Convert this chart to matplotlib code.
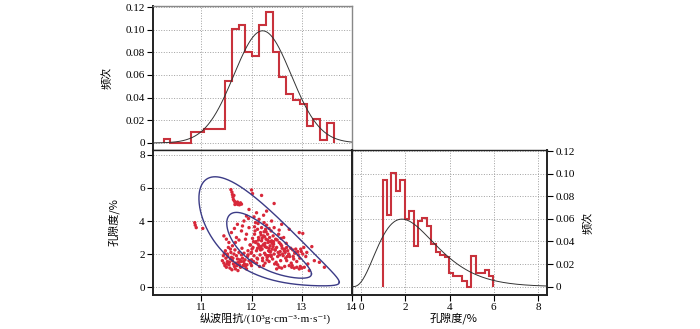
import numpy as np
import matplotlib
matplotlib.use("Agg")
import matplotlib.pyplot as plt

plt.rcParams['font.family'] = ['Liberation Serif', 'Noto Sans CJK SC', 'DejaVu Sans']
plt.rcParams['font.size'] = 8

# --- data ---
# impedance histogram (relative frequency), bins of ~0.1356
imp_edge0 = 10.25
imp_width = 0.1356
imp_freq = [0.0035, 0.0, 0.0, 0.0, 0.0094, 0.0094, 0.0120, 0.0125, 0.0125,
            0.055, 0.1006, 0.104, 0.080, 0.0765, 0.104, 0.1156, 0.080, 0.058,
            0.043, 0.0376, 0.034, 0.0153, 0.0215, 0.003, 0.018]
imp_mu, imp_sigma, imp_peak = 12.22, 0.57, 0.099

# porosity histogram, bins of 0.2
por_edge0 = 0.98
por_width = 0.2
por_freq = [0.094, 0.0637, 0.1008, 0.0845, 0.094, 0.060, 0.0667, 0.036, 0.0578,
            0.0608, 0.054, 0.038, 0.031, 0.028, 0.0265, 0.012, 0.009, 0.009,
            0.005, 0.0, 0.027, 0.012, 0.012, 0.015, 0.009]
# fitted gamma curve (shape, scale, shift)
por_k, por_theta, por_shift = 4.0, 0.75, 0.4

# crossplot points: (impedance, porosity)
imp_pts = [10.87, 10.90, 11.03, 10.88,
           11.59, 11.61, 11.62, 11.63, 11.64, 11.66, 11.68, 11.70, 11.73, 11.76, 11.80, 11.65, 11.72, 11.67, 11.78,
           12.00, 12.02, 12.20, 12.45, 11.95, 12.10, 11.90, 12.30, 12.05, 11.85, 12.15, 12.40, 12.60, 12.75, 12.95, 13.02,
           11.45, 11.50, 11.55, 11.60, 11.70, 11.62, 11.48, 11.52, 11.58, 11.68, 11.75, 11.80, 11.82, 11.90, 11.88, 11.95, 11.72, 11.66,
           11.42, 11.45, 11.47, 11.50, 11.52, 11.55, 11.57, 11.60, 11.62, 11.64, 11.66, 11.68, 11.70, 11.72, 11.74, 11.76, 11.78,
           11.80, 11.82, 11.84, 11.86, 11.88, 11.90, 11.53, 11.58, 11.65, 11.75, 11.85, 11.92, 11.95, 11.98, 12.00, 11.44, 11.49,
           11.61, 11.73,
           12.00, 12.03, 12.05, 12.08, 12.10, 12.12, 12.14, 12.15, 12.17, 12.18, 12.20, 12.21, 12.22, 12.24, 12.25, 12.26, 12.27,
           12.28, 12.29, 12.30, 12.31, 12.32, 12.33, 12.34, 12.35, 12.36, 12.37, 12.38, 12.39, 12.40, 12.41, 12.42, 12.43, 12.44,
           12.45, 12.46, 12.48, 12.50, 12.52, 12.54, 12.55, 12.57, 12.58, 12.60, 12.62, 12.64, 12.66, 12.68, 12.20, 12.30, 12.12,
           12.06, 12.02, 12.10, 12.16, 12.24, 12.00, 12.08, 12.25, 12.45, 12.55, 12.35,
           12.70, 12.72, 12.75, 12.78, 12.80, 12.82, 12.85, 12.88, 12.90, 12.92, 12.95, 12.98, 13.00, 13.02, 13.05, 13.08, 13.10,
           13.12, 12.70, 12.76, 12.84, 12.90, 12.96, 12.66, 12.60, 12.55, 12.50, 13.20, 13.25, 13.35, 13.45, 13.15, 12.74, 12.86,
           11.98, 12.04, 12.12, 12.27, 12.38, 12.19, 12.33, 12.47, 12.14, 12.29,
           12.18, 12.23, 12.28, 12.32, 12.36, 12.41, 12.26, 12.31, 12.21, 12.35, 12.39, 12.43, 12.17, 12.22, 12.27, 12.33,
           12.13, 12.19, 12.25, 12.37, 12.47, 12.51, 12.56, 12.61, 12.49, 12.53, 12.58, 12.63, 12.67, 12.71, 12.44, 12.39,
           11.56, 11.63, 11.69, 11.77, 11.83, 11.91, 11.59, 11.67, 11.71, 11.79, 11.87, 11.93, 11.51, 11.46, 11.54, 11.81,
           12.04, 12.09, 11.97, 12.07, 12.11, 12.01, 11.93, 12.06, 12.81, 12.87, 12.93, 12.99, 13.04, 12.79, 12.83, 12.97,
           12.65, 12.69, 12.59, 12.52, 11.99, 11.94, 12.13, 12.24]
por_pts = [3.90, 3.60, 3.55, 3.75,
           5.90, 5.75, 5.60, 5.45, 5.30, 5.20, 5.10, 5.05, 5.00, 4.98, 5.02, 5.55, 5.15, 5.00, 5.10,
           5.88, 5.66, 5.55, 5.06, 4.70, 4.50, 4.30, 4.60, 4.25, 4.00, 4.10, 4.00, 3.80, 3.50, 3.30, 3.25,
           3.10, 2.90, 2.70, 3.30, 3.00, 2.50, 2.20, 2.00, 2.30, 2.70, 2.85, 3.40, 3.70, 3.20, 2.90, 3.60, 3.80, 3.55,
           1.60, 1.45, 1.30, 1.20, 1.55, 1.35, 1.15, 1.80, 1.60, 1.40, 1.25, 1.10, 1.90, 1.70, 1.50, 1.35, 1.20,
           1.95, 1.75, 1.55, 1.40, 1.25, 1.10, 1.85, 1.70, 2.00, 2.10, 2.05, 1.85, 1.60, 1.45, 1.30, 1.90, 1.75,
           1.05, 1.00,
           2.10, 2.40, 1.90, 2.70, 2.20, 1.70, 3.00, 2.50, 1.95, 3.30, 2.80, 2.30, 1.60, 3.10, 2.60, 2.05, 1.45,
           3.50, 2.90, 2.40, 1.80, 3.20, 2.70, 2.20, 1.55, 3.00, 2.50, 1.95, 3.40, 2.80, 2.30, 1.70, 3.10, 2.60,
           2.00, 1.40, 2.90, 2.40, 1.85, 3.20, 2.70, 2.15, 1.60, 2.50, 2.00, 3.00, 2.30, 1.75, 3.60, 3.75, 3.50,
           3.20, 2.95, 1.45, 1.25, 1.30, 1.65, 3.90, 3.90, 3.60, 3.45, 3.55,
           2.40, 2.20, 1.30, 2.35, 1.20, 2.25, 1.15, 2.30, 1.20, 2.15, 1.10, 2.30, 1.15, 2.00, 1.20, 1.85, 2.10,
           1.40, 1.60, 1.85, 1.70, 1.55, 1.75, 1.25, 1.15, 1.20, 1.10, 2.45, 1.60, 1.50, 1.20, 1.00, 2.00, 2.05,
           2.55, 2.75, 2.35, 2.65, 2.15, 2.45, 1.90, 2.25, 2.85, 3.35,
           2.25, 2.55, 1.95, 2.85, 2.15, 2.65, 3.05, 1.65, 2.95, 2.35, 1.85, 2.45, 2.35, 1.75, 2.45, 1.90,
           2.60, 3.15, 3.35, 2.75, 2.25, 2.85, 1.95, 2.35, 1.50, 2.10, 2.60, 1.90, 2.10, 1.85, 2.75, 1.90,
           1.50, 1.75, 1.45, 1.65, 1.30, 1.35, 2.10, 2.25, 1.30, 1.55, 1.65, 1.95, 1.40, 2.05, 2.40, 2.35,
           1.55, 2.75, 2.55, 3.40, 1.75, 2.30, 2.20, 3.65, 1.30, 2.10, 1.95, 2.15, 2.40, 1.45, 1.85, 1.25,
           2.20, 2.65, 2.95, 1.35, 2.05, 4.15, 3.85, 4.35]

# confidence contours in (impedance, sqrt(porosity)) space
ell_center = (12.35, 1.43)
ell_sx, ell_ss, ell_rho = 0.49, 0.405, -0.77
ell_levels = [1.72, 2.85]

red = '#d8283a'
hist_red = '#c8323c'
navy = '#3b3b86'
grid_kw = dict(color='#a0a0a0', linestyle=':', linewidth=0.7)
cjk = ['Noto Sans CJK SC']

fig = plt.figure(figsize=(7, 3.29), dpi=100)
ax_top = fig.add_axes([0.2186, 0.5441, 0.2843, 0.4377])
ax_sc = fig.add_axes([0.2186, 0.1033, 0.2843, 0.4408])
ax_rt = fig.add_axes([0.5029, 0.1033, 0.2785, 0.4408])

# top histogram
imp_edges = imp_edge0 + imp_width * np.arange(len(imp_freq) + 1)
ax_top.stairs(imp_freq, imp_edges, baseline=0, color=hist_red, linewidth=1.5, zorder=3)
xc = np.linspace(10.04, 14.0, 300)
ax_top.plot(xc, imp_peak * np.exp(-(xc - imp_mu) ** 2 / (2 * imp_sigma ** 2)),
            color='#333333', linewidth=0.7, zorder=4)
ax_top.set_xlim(10.04, 14.0)
ax_top.set_ylim(-0.0062, 0.1209)
ax_top.set_xticks([11, 12, 13])
ax_top.set_xticklabels([])
ax_top.set_yticks([0, 0.02, 0.04, 0.06, 0.08, 0.10, 0.12])
ax_top.set_yticklabels(['0', '0.02', '0.04', '0.06', '0.08', '0.10', '0.12'])
ax_top.tick_params(axis='x', length=0)
ax_top.tick_params(axis='y', direction='out', length=4, width=0.8, pad=2)
ax_top.grid(True, **grid_kw)
ax_top.set_ylabel('频次', family=cjk, labelpad=9)

# crossplot
ax_sc.scatter(imp_pts, por_pts, s=6, color=red, edgecolors='none', zorder=3)
t = np.linspace(0, 2 * np.pi, 400)
for k in ell_levels:
    u = np.cos(t)
    v = np.sin(t)
    ex = ell_center[0] + k * ell_sx * u
    es = ell_center[1] + k * ell_ss * (ell_rho * u + np.sqrt(1 - ell_rho ** 2) * v)
    ax_sc.plot(ex, es ** 2, color=navy, linewidth=1.0, zorder=4)
ax_sc.set_xlim(10.04, 14.0)
ax_sc.set_ylim(-0.48, 8.3)
ax_sc.set_xticks([11, 12, 13, 14])
ax_sc.set_yticks([0, 2, 4, 6, 8])
ax_sc.tick_params(direction='out', length=4, width=0.8, pad=2)
ax_sc.grid(True, **grid_kw)
ax_sc.set_xlabel('纵波阻抗/(10³g·cm⁻³·m·s⁻¹)',
                 family=['Liberation Serif', 'Noto Sans CJK SC', 'DejaVu Sans'])
ax_sc.xaxis.set_label_coords(0.565, -0.12)
ax_sc.set_ylabel('孔隙度/%', family=cjk, labelpad=14)

# right histogram
por_edges = por_edge0 + por_width * np.arange(len(por_freq) + 1)
ax_rt.stairs(por_freq, por_edges, baseline=0, color=hist_red, linewidth=1.5, zorder=3)
pc = np.linspace(-0.4, 8.4, 300)
tt = np.clip(pc + por_shift, 0, None)
gamma_k = 6.0  # Gamma(4)
pdf = tt ** (por_k - 1) * np.exp(-tt / por_theta) / (gamma_k * por_theta ** por_k)
ax_rt.plot(pc, por_width * pdf, color='#333333', linewidth=0.7, zorder=4)
ax_rt.set_xlim(-0.4, 8.4)
ax_rt.set_ylim(-0.0074, 0.1209)
ax_rt.set_xticks([0, 2, 4, 6, 8])
ax_rt.set_yticks([0, 0.02, 0.04, 0.06, 0.08, 0.10, 0.12])
ax_rt.set_yticklabels(['0', '0.02', '0.04', '0.06', '0.08', '0.10', '0.12'])
ax_rt.yaxis.tick_right()
ax_rt.yaxis.set_label_position('right')
ax_rt.tick_params(direction='out', length=4, width=0.8, pad=2)
ax_rt.grid(True, **grid_kw)
ax_rt.set_xlabel('孔隙度/%', family=cjk)
ax_rt.xaxis.set_label_coords(0.52, -0.12)
ax_rt.set_ylabel('频次', family=cjk, labelpad=6)

for ax in (ax_top, ax_sc, ax_rt):
    for s in ax.spines.values():
        s.set_linewidth(1.0)
        s.set_color('#222222')
ax_top.spines['top'].set_color('#888888')
ax_top.spines['right'].set_color('#888888')
ax_top.spines['left'].set_linewidth(1.4)
ax_sc.spines['left'].set_linewidth(1.4)
ax_sc.spines['bottom'].set_linewidth(1.4)
ax_sc.spines['right'].set_linewidth(1.4)
ax_rt.spines['right'].set_linewidth(1.4)
ax_rt.spines['bottom'].set_linewidth(1.4)

fig.savefig('out.png', dpi=100)
